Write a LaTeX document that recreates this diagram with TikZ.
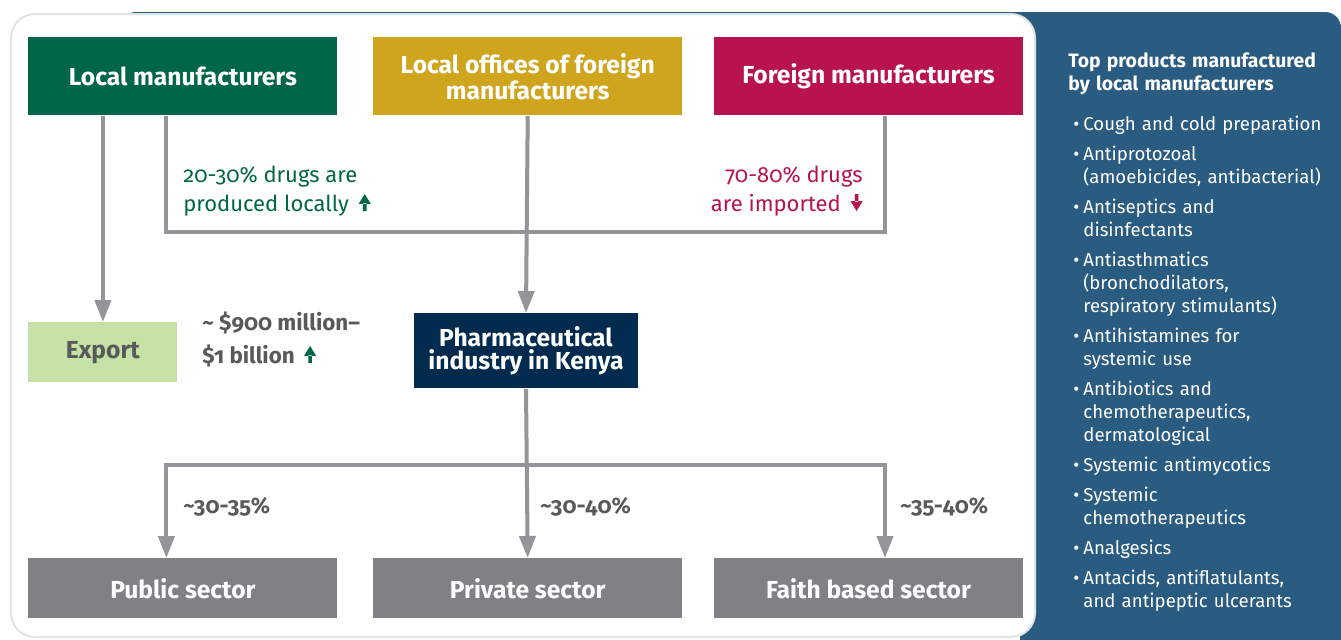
\documentclass[tikz,border=0pt]{standalone}
\usepackage{fontspec}
\setmainfont{Fira Sans}[RawFeature={+onum}]
\usetikzlibrary{arrows.meta,positioning}

\definecolor{lmgreen}{HTML}{006647}
\definecolor{lofgold}{HTML}{CFA51D}
\definecolor{fmred}{HTML}{B8124F}
\definecolor{exgreen}{HTML}{C5E1A5}
\definecolor{phblue}{HTML}{002B4E}
\definecolor{sectorgray}{HTML}{808184}
\definecolor{linegray}{HTML}{939598}
\definecolor{textgray}{HTML}{58595B}
\definecolor{panelblue}{HTML}{2A5B80}
\definecolor{bordergray}{HTML}{E3E3E3}

\newcommand\upmark[1]{\hspace{2pt}\tikz[baseline=0pt]\fill[#1] (-0.9pt,0pt) rectangle (0.9pt,4pt) (-3pt,3.6pt) -- (3pt,3.6pt) -- (0pt,8.5pt) -- cycle;}
\newcommand\downmark[1]{\hspace{2pt}\tikz[baseline=0pt]\fill[#1] (-0.9pt,8.5pt) rectangle (0.9pt,4.5pt) (-3pt,4.9pt) -- (3pt,4.9pt) -- (0pt,0pt) -- cycle;}
\newcommand\bul[1]{\par\vspace{3.5pt}\noindent\hangindent=7.5pt\hangafter=1\hspace*{2.5pt}\makebox[5pt][l]{\textbullet}#1}

\tikzset{
  box/.style={inner sep=0pt, align=center, text=white, font=\bfseries\fontsize{12.3}{11.5}\selectfont},
  topbox/.style={box, minimum width=154.5pt, minimum height=39pt},
  sectorbox/.style={box, fill=sectorgray, minimum width=154.5pt, minimum height=30pt},
  link/.style={draw=linegray, line width=2pt},
  arr/.style={link, -{Triangle[width=8pt,length=11pt]}},
  note/.style={inner sep=0pt, align=left, anchor=base west, font=\fontsize{11}{14.5}\selectfont},
  share/.style={inner sep=0pt, anchor=base west, text=textgray, font=\bfseries\fontsize{11.2}{16.5}\selectfont},
}

\begin{document}
\begin{tikzpicture}[x=0.5pt, y=-0.5pt]
  \useasboundingbox (0,0) rectangle (1341,639);
  % panels
  \fill[panelblue, rounded corners=8pt] (120,12) -- (1341,12) -- (1341,690) -- (1020,690) -- (1020,300) -- (120,300) -- cycle;
  \filldraw[fill=white, draw=bordergray, line width=1pt, rounded corners=12pt] (11,14) rectangle (1035,637);

  % suppliers
  \node[topbox, fill=lmgreen, anchor=north west] (lm) at (28,37) {Local manufacturers};
  \node[topbox, fill=lofgold, right=17.5pt of lm] (lo) {Local offices of foreign\\manufacturers};
  \node[topbox, fill=fmred, right=15.5pt of lo] (fm) {Foreign manufacturers};

  % middle row
  \node[box, fill=exgreen, text=textgray, minimum width=74.5pt, minimum height=30pt, anchor=north west] (ex) at (28,322) {Export};
  \node[box, fill=phblue, minimum width=112pt, minimum height=37.5pt, anchor=north] (ph) at (526,313) {Pharmaceutical\\industry in Kenya};

  % sectors
  \node[sectorbox, anchor=north west] (pu) at (28,558) {Public sector};
  \node[sectorbox, right=17.5pt of pu] (pr) {Private sector};
  \node[sectorbox, right=15.5pt of pr] (fb) {Faith based sector};

  % joints
  \coordinate (jt) at (526,232);
  \coordinate (jb) at (526,465);
  \coordinate (lmr) at ([xshift=-8.25pt]lm.south);
  \coordinate (fml) at ([xshift=8.25pt]fm.south);
  \coordinate (pun) at ([xshift=-8.25pt]pu.north);
  \coordinate (fbn) at ([xshift=8.25pt]fb.north);

  % connectors
  \draw[arr] (lm.south -| ex.north) -- (ex.north);
  \draw[link] (lmr) |- (jt) -| (fml);
  \draw[arr] (lo.south) -- (ph.north);
  \draw[arr] (ph.south) -- (pr.north);
  \draw[arr] (jb) -| (pun);
  \draw[arr] (jb) -| (fbn);

  % labels (base = last line)
  \node[note, text=lmgreen] (loc) at (183,211) {20-30\% drugs are\\produced locally \upmark{lmgreen}};
  \node[note, text=fmred, align=right, anchor=base east] (imp) at (863,211) {70-80\% drugs\\are imported \downmark{fmred}};
  \node[share, align=left] (val) at (202,363) {\textasciitilde\ \$900 million--\\\$1 billion \upmark{lmgreen}};
  \node[share] (spu) at (183,513) {\textasciitilde30-35\%};
  \node[share] (spr) at (540,513) {\textasciitilde30-40\%};
  \node[share] (sfb) at (900,513) {\textasciitilde35-40\%};

  % product list
  \node[inner sep=0pt, anchor=north west, text width=138pt, align=left, text=white, font=\fontsize{9.3}{11.5}\selectfont] (top) at (1068,52) {%
    {\bfseries\fontsize{9.7}{11.5}\selectfont Top products manufactured\newline by local manufacturers\par}\vspace{5pt}
    \bul{Cough and cold preparation}
    \bul{Antiprotozoal\newline (amoebicides, antibacterial)}
    \bul{Antiseptics and\newline disinfectants}
    \bul{Antiasthmatics\newline (bronchodilators,\newline respiratory stimulants)}
    \bul{Antihistamines for\newline systemic use}
    \bul{Antibiotics and\newline chemotherapeutics,\newline dermatological}
    \bul{Systemic antimycotics}
    \bul{Systemic\newline chemotherapeutics}
    \bul{Analgesics}
    \bul{Antacids, antiflatulants,\newline and antipeptic ulcerants}\par};
\end{tikzpicture}
\end{document}
